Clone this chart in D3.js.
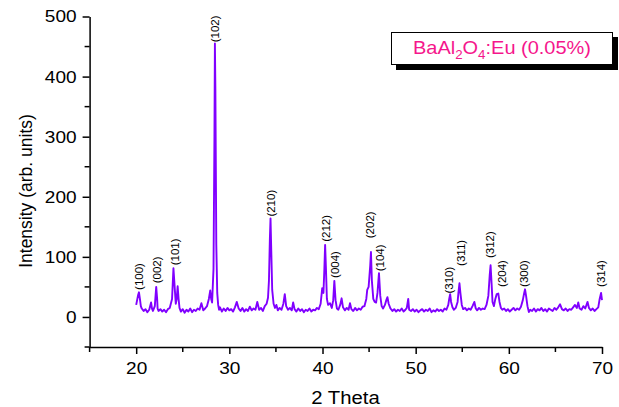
<!DOCTYPE html>
<html>
<head>
<meta charset="utf-8">
<script src="https://d3js.org/d3.v7.min.js"></script>
<style>
  body { margin: 0; background: #fff; }
  text { font-family: "Liberation Sans", Arial, sans-serif; }
</style>
</head>
<body>
<div id="chart"></div>
<script>
'use strict';

// XRD pattern, [2 theta, intensity]
var pattern = [
  [20.0,20],[20.1,28],[20.2,36],[20.3,41],[20.4,30],[20.5,18],[20.6,14],[20.8,10],[21.0,13],[21.2,8],
  [21.4,12],[21.6,24],[21.7,14],[21.8,10],[22.0,18],[22.15,50],[22.25,30],[22.3,14],[22.4,10],[22.6,13],
  [22.8,9],[23.0,12],[23.2,8],[23.4,13],[23.6,15],[23.85,30],[24.0,81],[24.15,45],[24.25,22],[24.35,30],
  [24.45,51],[24.55,30],[24.65,15],[24.8,9],[25.0,13],[25.2,7],[25.4,12],[25.6,9],[25.8,14],[26.0,8],
  [26.2,12],[26.4,10],[26.6,14],[26.8,12],[27.0,23],[27.2,11],[27.4,14],[27.6,18],[27.8,30],[27.95,44],
  [28.05,30],[28.15,24],[28.3,80],[28.4,300],[28.45,455],[28.5,380],[28.6,120],[28.7,40],[28.8,20],[28.9,12],
  [29.0,16],[29.2,9],[29.4,14],[29.6,10],[29.8,15],[30.0,11],[30.2,13],[30.4,9],[30.6,16],[30.8,25],
  [31.0,14],[31.2,10],[31.4,15],[31.6,9],[31.8,13],[32.0,10],[32.2,17],[32.4,11],[32.6,14],[32.8,12],
  [33.0,25],[33.2,12],[33.4,15],[33.6,10],[33.8,18],[34.0,22],[34.15,32],[34.25,60],[34.35,130],[34.42,164],
  [34.5,110],[34.6,45],[34.75,22],[34.9,15],[35.05,20],[35.2,11],[35.4,15],[35.6,12],[35.8,22],[35.95,38],
  [36.1,18],[36.3,12],[36.5,15],[36.7,11],[36.85,24],[37.0,13],[37.2,9],[37.4,14],[37.6,10],[37.8,13],
  [38.0,8],[38.2,12],[38.4,10],[38.6,14],[38.8,9],[39.0,12],[39.2,11],[39.4,15],[39.6,13],[39.8,22],
  [39.97,48],[40.1,40],[40.2,80],[40.28,120],[40.37,80],[40.47,30],[40.6,20],[40.8,23],[41.0,15],[41.15,28],
  [41.27,60],[41.4,28],[41.55,14],[41.7,12],[41.9,20],[42.05,31],[42.2,16],[42.4,11],[42.6,15],[42.8,12],
  [42.95,23],[43.1,13],[43.3,10],[43.5,15],[43.7,11],[43.9,14],[44.1,12],[44.3,17],[44.5,18],[44.7,30],
  [44.8,45],[44.95,50],[45.12,85],[45.2,108],[45.3,60],[45.45,30],[45.6,25],[45.75,24],[45.9,40],[46.06,73],
  [46.2,35],[46.35,18],[46.5,14],[46.7,20],[46.85,28],[46.97,33],[47.1,22],[47.3,14],[47.5,10],[47.7,13],
  [47.9,9],[48.1,12],[48.3,10],[48.5,14],[48.7,9],[48.9,12],[49.05,15],[49.2,30],[49.3,12],[49.5,10],
  [49.7,13],[49.9,9],[50.1,12],[50.3,8],[50.5,11],[50.7,13],[50.9,9],[51.1,12],[51.3,10],[51.5,14],
  [51.7,8],[51.9,11],[52.1,9],[52.3,13],[52.5,10],[52.7,12],[52.9,9],[53.1,14],[53.3,12],[53.5,20],
  [53.6,30],[53.7,38],[53.8,25],[53.95,16],[54.1,12],[54.3,15],[54.5,25],[54.6,42],[54.7,56],[54.8,40],
  [54.95,20],[55.1,13],[55.3,15],[55.5,11],[55.7,14],[55.9,12],[56.1,18],[56.3,25],[56.45,14],[56.6,11],
  [56.8,15],[57.0,12],[57.2,14],[57.4,13],[57.6,20],[57.8,35],[57.95,70],[58.04,86],[58.15,55],[58.25,25],
  [58.4,18],[58.55,30],[58.7,38],[58.87,39],[59.0,25],[59.15,15],[59.3,12],[59.5,14],[59.7,10],[59.9,13],
  [60.1,9],[60.3,12],[60.5,15],[60.7,11],[60.9,14],[61.1,12],[61.3,17],[61.5,28],[61.65,40],[61.74,46],
  [61.85,35],[62.0,18],[62.15,8],[62.3,12],[62.5,10],[62.7,14],[62.9,9],[63.1,13],[63.3,11],[63.5,15],
  [63.7,10],[63.9,13],[64.1,9],[64.3,14],[64.5,12],[64.7,10],[64.9,15],[65.1,12],[65.3,16],[65.5,21],
  [65.7,13],[65.9,11],[66.1,14],[66.3,10],[66.5,13],[66.7,12],[66.9,16],[67.1,20],[67.3,15],[67.45,24],
  [67.6,14],[67.8,12],[68.0,18],[68.2,14],[68.45,25],[68.6,15],[68.8,11],[69.0,14],[69.2,10],[69.4,13],
  [69.6,16],[69.75,30],[69.9,40],[70.0,28]
];

// peak indexing labels and where their bottoms sit
var peakNames   = ['(100)','(002)','(101)','(102)','(210)','(212)','(004)','(202)','(104)','(310)','(311)','(312)','(204)','(300)','(314)'];
var peakTheta   = [20.3, 22.25, 24.15, 28.47, 34.48, 40.35, 41.35, 45.13, 46.12, 53.55, 54.91, 57.96, 59.3, 61.63, 69.9];
var peakLabelAt = [45, 56, 86, 457, 167, 125, 65, 131, 76, 39, 85, 98, 50, 50, 50];

var xTicks = [20, 30, 40, 50, 60, 70];
var xMinor = [15, 25, 35, 45, 55, 65];
var yTicks = [0, 100, 200, 300, 400, 500];
var yMinor = [-50, 50, 150, 250, 350, 450];

var width = 619;
var height = 407;
var stretch = 1.12; // the picture's lettering runs a bit wide

var x = d3.scaleLinear().domain([15, 70]).range([89.6, 602]);
var y = d3.scaleLinear().domain([-50, 500]).range([347, 16.5]);

var svg = d3.select('#chart')
            .append('svg')
            .attr('width', width)
            .attr('height', height);

// widens a text around its own anchor
var widen = function(sel, k){
  sel.each(function(){
    var t = d3.select(this);
    var tx = +t.attr('x') || 0;
    var ty = +t.attr('y') || 0;
    t.attr('x', 0).attr('y', 0)
     .attr('transform', 'translate(' + tx + ',' + ty + ') scale(' + k + ',1)');
  });
};

// axes, ticks pointing outwards
var xAxis = svg.append('g')
               .attr('transform', 'translate(0,' + y(-50) + ')')
               .call(d3.axisBottom(x).tickValues(xTicks).tickSizeInner(7).tickSizeOuter(0).tickPadding(6));
xAxis.selectAll('.minor')
     .data(xMinor)
     .enter().append('line')
     .attr('class', 'minor')
     .attr('x1', function(d){ return x(d); })
     .attr('x2', function(d){ return x(d); })
     .attr('y1', 0).attr('y2', 5)
     .attr('stroke', '#000').attr('stroke-width', 1.5);

var yAxis = svg.append('g')
               .attr('transform', 'translate(' + x(15) + ',0)')
               .call(d3.axisLeft(y).tickValues(yTicks).tickSizeInner(7).tickSizeOuter(0).tickPadding(6));
yAxis.selectAll('.minor')
     .data(yMinor)
     .enter().append('line')
     .attr('class', 'minor')
     .attr('x1', -5).attr('x2', 0)
     .attr('y1', function(d){ return y(d); })
     .attr('y2', function(d){ return y(d); })
     .attr('stroke', '#000').attr('stroke-width', 1.5);

svg.selectAll('.domain, .tick line').attr('stroke-width', 1.5);
svg.selectAll('.tick text')
   .attr('font-size', 17)
   .attr('font-family', '"Liberation Sans", Arial, sans-serif')
   .attr('fill', '#000');
xAxis.selectAll('.tick text').attr('dy', '0.85em');
widen(svg.selectAll('.tick text'), stretch);

svg.append('text')
   .attr('x', 345.5).attr('y', 404)
   .attr('text-anchor', 'middle')
   .attr('font-size', 17.5)
   .text('2 Theta')
   .call(widen, 1.16);

svg.append('text')
   .attr('transform', 'translate(32,191) rotate(-90)')
   .attr('text-anchor', 'middle')
   .attr('font-size', 17.5)
   .text('Intensity (arb. units)');

// the pattern itself
var line = d3.line()
             .x(function(d){ return x(d[0]); })
             .y(function(d){ return y(d[1]); });

svg.append('path')
   .datum(pattern)
   .attr('d', line)
   .attr('fill', 'none')
   .attr('stroke', '#8000ff')
   .attr('stroke-width', 1.9)
   .attr('stroke-linejoin', 'round');

// hkl labels, rotated
svg.selectAll('.hkl').data(peakNames)
   .enter().append('text')
   .attr('class', 'hkl')
   .attr('transform', function(d, i){
     return 'translate(' + x(peakTheta[i]) + ',' + y(peakLabelAt[i]) + ') rotate(-90)';
   })
   .attr('dy', '0.35em')
   .attr('font-size', 11.5)
   .text(function(d){ return d; });

// legend box with drop shadow
svg.append('rect')
   .attr('x', 396).attr('y', 37).attr('width', 222).attr('height', 33)
   .attr('fill', '#000');
svg.append('rect')
   .attr('x', 391.5).attr('y', 32.5).attr('width', 221).attr('height', 32)
   .attr('fill', '#fff').attr('stroke', '#000').attr('stroke-width', 1);

var legend = svg.append('text')
                .attr('x', 413).attr('y', 54)
                .attr('font-size', 18)
                .attr('fill', '#f5168c');
legend.append('tspan').text('BaAl');
legend.append('tspan').attr('font-size', 12).attr('dy', 5).text('2');
legend.append('tspan').attr('dy', -5).text('O');
legend.append('tspan').attr('font-size', 12).attr('dy', 5).text('4');
legend.append('tspan').attr('dy', -5).text(':Eu (0.05%)');
legend.call(widen, 1.11);
</script>
</body>
</html>
